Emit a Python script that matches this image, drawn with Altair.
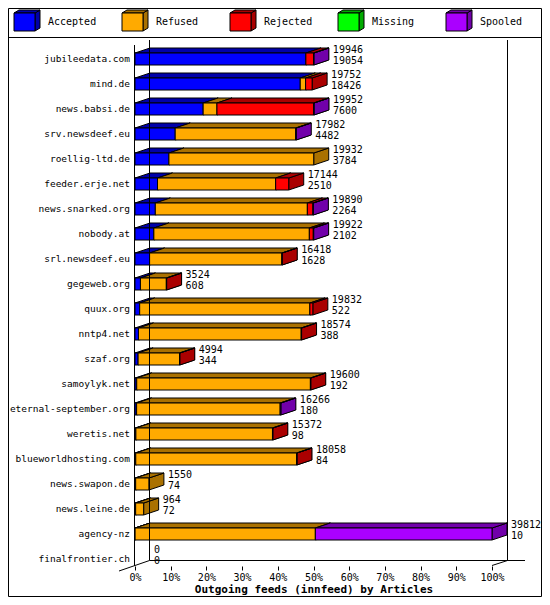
import altair as alt
import pandas as pd

# ---------------- data ----------------
hosts = ["jubileedata.com", "mind.de", "news.babsi.de", "srv.newsdeef.eu", "roellig-ltd.de",
         "feeder.erje.net", "news.snarked.org", "nobody.at", "srl.newsdeef.eu", "gegeweb.org",
         "quux.org", "nntp4.net", "szaf.org", "samoylyk.net", "eternal-september.org",
         "weretis.net", "blueworldhosting.com", "news.swapon.de", "news.leine.de", "agency-nz",
         "finalfrontier.ch"]
totals = [19946, 19752, 19952, 17982, 19932, 17144, 19890, 19922, 16418, 3524,
          19832, 18574, 4994, 19600, 16266, 15372, 18058, 1550, 964, 39812, 0]
accepted = [19054, 18426, 7600, 4482, 3784, 2510, 2264, 2102, 1628, 608,
            522, 388, 344, 192, 180, 98, 84, 74, 72, 10, 0]
refused = [0, 600, 1540, 13440, 16148, 13174, 16956, 17340, 14750, 2886,
           18980, 18146, 4620, 19368, 16006, 15234, 17944, 1476, 892, 20100, 0]
rejected = [860, 726, 10792, 0, 0, 1460, 620, 440, 40, 30,
            330, 40, 30, 40, 0, 40, 30, 0, 0, 0, 0]
missing = [0, 0, 0, 0, 0, 0, 0, 0, 0, 0,
           0, 0, 0, 0, 0, 0, 0, 0, 0, 0, 0]
spooled = [32, 0, 20, 60, 0, 0, 50, 40, 0, 0,
           0, 0, 0, 0, 80, 0, 0, 0, 0, 19702, 0]

series_names = ["Accepted", "Refused", "Rejected", "Missing", "Spooled"]
front_colors = ["#0000ff", "#ffaa00", "#ff0000", "#00ff00", "#aa00ff"]
dark_colors = ["#0000aa", "#aa7100", "#aa0000", "#00aa00", "#7100aa"]
tick_values = [0, 10, 20, 30, 40, 50, 60, 70, 80, 90, 100]
x_title = "Outgoing feeds (innfeed) by Articles"

# ---------------- layout / style ----------------
FONT = "DejaVu Sans Mono"
W, H = 357, 532
PX = W / 100.0          # pixels per percent
ROW = 25.0              # pixels per row
Y_DOM = [-1, 20.28]
DX, DY, HALF = 15, 5, 6
dxu, dyu, hu = DX / PX, DY / ROW, HALF / ROW

xs = alt.Scale(domain=[0, 100], nice=False, zero=False)
ys = alt.Scale(domain=Y_DOM, reverse=True, nice=False, zero=False)
xaxis = alt.Axis(values=tick_values, labelExpr="datum.value + '%'", tickSize=4, domain=False,
                 grid=False, labelFont=FONT, labelFontSize=10, labelColor="black",
                 tickColor="black", labelPadding=2, labelFlush=False, title=x_title,
                 titleFont=FONT, titleFontSize=11, titleFontWeight="bold",
                 titleColor="black", titlePadding=1)


def X(f, **kw):
    return alt.X(f, type="quantitative", scale=xs, axis=xaxis, **kw)


def Y(f, **kw):
    return alt.Y(f, type="quantitative", scale=ys, axis=None, **kw)


def ux(px):
    return px / PX


def uy(py):
    return Y_DOM[0] + py / ROW


# ---------------- build polygons ----------------
vmax = max(totals)
series = [accepted, refused, rejected, missing, spooled]
fronts, tops, sides = [], [], []
for i in range(len(hosts)):
    cum = 0
    for k in range(len(series_names)):
        v = series[k][i]
        if v <= 0:
            continue
        s0 = cum * 100.0 / vmax
        cum += v
        s1 = cum * 100.0 / vmax
        key = f"{i}-{k}"
        fronts.append(dict(key=key, x0=s0, x1=s1, ya=i - hu, yb=i + hu, fill=front_colors[k]))
        tops.append(dict(key=key, y=i - hu, xa=s0, xb=s1, fill=dark_colors[k]))
        tops.append(dict(key=key, y=i - hu - dyu, xa=s0 + dxu, xb=s1 + dxu, fill=dark_colors[k]))
        sides.append(dict(key=key, k=k, x=s1, ya=i - hu, yb=i + hu, fill=dark_colors[k]))
        sides.append(dict(key=key, k=k, x=s1 + dxu, ya=i - hu - dyu, yb=i + hu - dyu, fill=dark_colors[k]))

front_df = pd.DataFrame(fronts)
top_df = pd.DataFrame(tops)
side_df = pd.DataFrame(sides)

lab_df = pd.DataFrame({
    "host": hosts,
    "row": list(range(len(hosts))),
    "end": [t * 100.0 / vmax for t in totals],
    "tot": [str(t) for t in totals],
    "acc": [str(a) for a in accepted],
})

layers = []
for k in range(len(series_names)):
    d = side_df[side_df.k == k]
    if len(d) == 0:
        continue
    layers.append(alt.Chart(d).mark_area(orient="vertical", stroke="black", strokeWidth=1, opacity=1).encode(
        x=X("x"), y=Y("ya", stack=None), y2="yb",
        fill=alt.Fill("fill:N", scale=None), detail="key:N"))

layers.append(alt.Chart(top_df).mark_area(orient="horizontal", stroke="black", strokeWidth=1, opacity=1).encode(
    y=Y("y"), x=X("xa", stack=None), x2="xb",
    fill=alt.Fill("fill:N", scale=None), detail="key:N"))

layers.append(alt.Chart(front_df).mark_rect(stroke="black", strokeWidth=1).encode(
    x=X("x0"), x2="x1", y=Y("ya"), y2="yb", fill=alt.Fill("fill:N", scale=None)))

# value labels
layers.append(alt.Chart(lab_df).mark_text(align="left", baseline="middle", dx=DX + 4, dy=-9,
                                          font=FONT, fontSize=10, color="black").encode(
    x=X("end"), y=Y("row"), text="tot:N"))
layers.append(alt.Chart(lab_df).mark_text(align="left", baseline="middle", dx=DX + 4, dy=2,
                                          font=FONT, fontSize=10, color="black").encode(
    x=X("end"), y=Y("row"), text="acc:N"))
# host labels
layers.append(alt.Chart(lab_df).mark_text(align="right", baseline="middle", font=FONT,
                                          fontSize=9.5, color="black").encode(
    x=alt.value(-5), y=Y("row"), text="host:N"))

# ---------------- decorations (frame, walls, floor) ----------------
one = pd.DataFrame({"a": [0]})
layers.append(alt.Chart(one).mark_rect(fillOpacity=0, stroke="black", strokeWidth=1).encode(
    x=alt.value(-126.5), x2=alt.value(406.5), y=alt.value(-25.5), y2=alt.value(562.5)))


def rule(x1, y1, x2, y2):
    return alt.Chart(one).mark_rule(color="black", strokeWidth=1).encode(
        x=alt.value(x1), y=alt.value(y1), x2=alt.value(x2), y2=alt.value(y2))


layers.append(rule(-126.5, 3.5, 406.5, 3.5))                 # legend separator
layers.append(rule(-0.5, 11, -0.5, 532))                     # front axis
layers.append(rule(DX - 0.5, 6, DX - 0.5, 526.5))             # back wall
layers.append(rule(W + DX + 0.5, 6, W + DX + 0.5, 526.5))     # right wall
layers.append(rule(DX - 0.5, 526.5, W + DX + 18, 526.5))      # floor back line
layers.append(rule(-DX - 1, 537, DX - 0.5, 526.5))            # left floor diagonal
layers.append(rule(W, 531.5, W + DX + 0.5, 526.5))            # right floor diagonal

# ---------------- legend ----------------
LX0, LSTEP, LY0, LW, LH, LDX, LDY = -121, 108, -21, 21, 18, 5, 3
leg_front, leg_top, leg_side, leg_text = [], [], [], []
for k, name in enumerate(series_names):
    x0 = LX0 + LSTEP * k
    leg_front.append(dict(x0=ux(x0), x1=ux(x0 + LW), ya=uy(LY0), yb=uy(LY0 + LH), fill=front_colors[k]))
    leg_top.append(dict(key=k, y=uy(LY0), xa=ux(x0), xb=ux(x0 + LW), fill=dark_colors[k]))
    leg_top.append(dict(key=k, y=uy(LY0 - LDY), xa=ux(x0 + LDX), xb=ux(x0 + LW + LDX), fill=dark_colors[k]))
    leg_side.append(dict(key=k, x=ux(x0 + LW), ya=uy(LY0), yb=uy(LY0 + LH), fill=dark_colors[k]))
    leg_side.append(dict(key=k, x=ux(x0 + LW + LDX), ya=uy(LY0 - LDY), yb=uy(LY0 + LH - LDY), fill=dark_colors[k]))
    leg_text.append(dict(name=name, x=ux(x0 + 34), y=uy(LY0 + 9)))

layers.append(alt.Chart(pd.DataFrame(leg_side)).mark_area(orient="vertical", stroke="black", strokeWidth=1, opacity=1).encode(
    x=X("x"), y=Y("ya", stack=None), y2="yb", fill=alt.Fill("fill:N", scale=None), detail="key:N"))
layers.append(alt.Chart(pd.DataFrame(leg_top)).mark_area(orient="horizontal", stroke="black", strokeWidth=1, opacity=1).encode(
    y=Y("y"), x=X("xa", stack=None), x2="xb", fill=alt.Fill("fill:N", scale=None), detail="key:N"))
layers.append(alt.Chart(pd.DataFrame(leg_front)).mark_rect(stroke="black", strokeWidth=1).encode(
    x=X("x0"), x2="x1", y=Y("ya"), y2="yb", fill=alt.Fill("fill:N", scale=None)))
layers.append(alt.Chart(pd.DataFrame(leg_text)).mark_text(align="left", baseline="middle", font=FONT,
                                                        fontSize=10, color="black").encode(
    x=X("x"), y=Y("y"), text="name:N"))

chart = alt.layer(*layers).properties(
    width=W, height=H,
    padding={"left": 127, "top": 26, "right": 50, "bottom": 31},
    autosize=alt.AutoSizeParams(type="none"),
).configure_view(strokeWidth=0)

chart.save("out.html", embed_options={"renderer": "svg", "actions": False})
